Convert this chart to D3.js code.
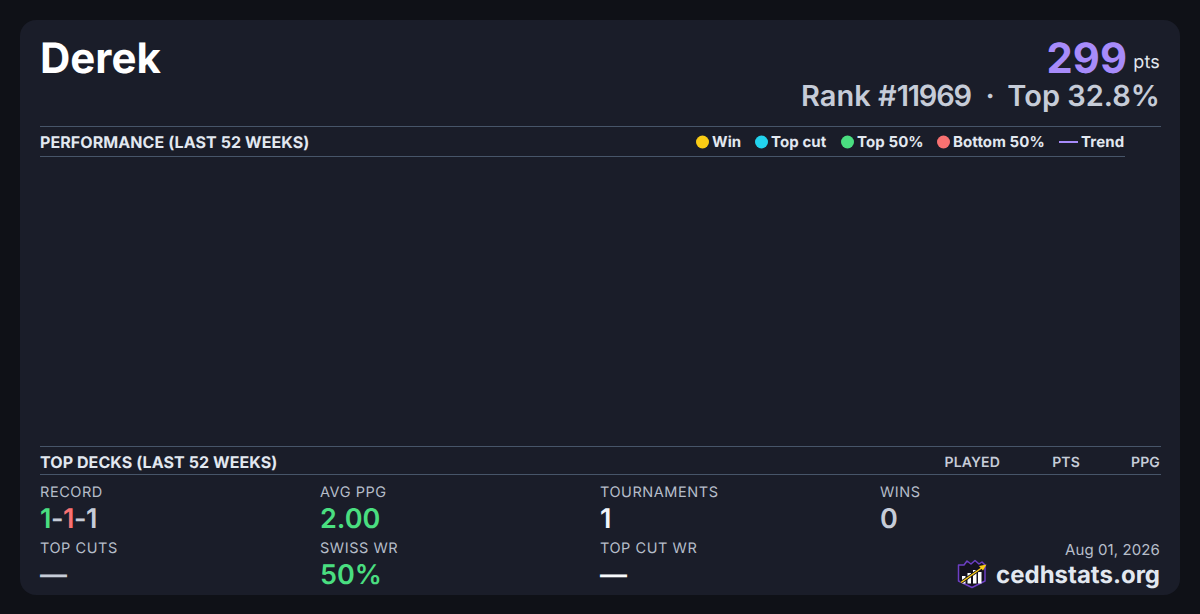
<!DOCTYPE html>
<html><head><meta charset="utf-8">
<script src="https://cdn.jsdelivr.net/npm/d3@7/dist/d3.min.js"></script>
<style>html,body{margin:0;padding:0;background:#0f1117;overflow:hidden}svg{display:block;font-family:Inter,sans-serif;text-rendering:geometricPrecision}</style>
</head><body><svg id="c" width="1200" height="614"></svg>
<script>
const playerName = "Derek";
const points = "299";
const rankPrefix = "Rank #";
const rankValue = "11969";
const topShare = "Top 32.8%";
const legendLabels = ["Win","Top cut","Top 50%","Bottom 50%"];
const legendColors = ["#facc15","#22d3ee","#4ade80","#f87171"];
const legendX = [702.5,761.5,847.5,943.5];
const legendTextX = [712,771,857,953];
const deckHeaders = ["PLAYED","PTS","PPG"];
const deckHeaderRight = [1000,1080,1160];
const statLabels = ["RECORD","AVG PPG","TOURNAMENTS","WINS","TOP CUTS","SWISS WR","TOP CUT WR"];
const statValues = [null,"2.00","1","0","—","50%","—"];
const statColors = [null,"#4ade80","#f1f5f9","#c6ccd8","#c6ccd8","#4ade80","#f8fafc"];
const statX = [40,320,600,880,40,320,600];
const statRow = [0,0,0,0,1,1,1];
const recordParts = ["1","-","1","-","1"];
const recordColors = ["#4ade80","#c6ccd8","#f87171","#c6ccd8","#c6ccd8"];
const logoBars = [[4,16,3.5,7.5],[9.5,13,3.5,10.5],[15,10,3.5,13.5],[20,12,3.5,11.5]];

const svg = d3.select("#c");
svg.append("rect").attr("x",20).attr("y",20).attr("width",1160).attr("height",575).attr("rx",16).attr("fill","#1a1d29");

const T=(x,y,s,size,w,fill,anchor="start",ls=0)=>svg.append("text").attr("x",x).attr("y",y).attr("font-size",size).attr("font-weight",w).attr("fill",fill).attr("text-anchor",anchor).attr("letter-spacing",ls).style("white-space","pre").text(s);
const L=(x1,x2,y)=>svg.append("line").attr("x1",x1).attr("x2",x2).attr("y1",y+.5).attr("y2",y+.5).attr("stroke","#475569").attr("stroke-width",1);

T(40,73,playerName,42,700,"#ffffff");
T(1127,73,points,41.7,700,"#a78bfa","end");
T(1160,68,"pts",18,400,"#e2e8f0","end",0.2);
const rank=T(801,106,"",29,600,"#c6ccd8");
rank.append("tspan").text(rankPrefix);
rank.append("tspan").attr("letter-spacing",-1.2).text(rankValue);
T(990,106,"·",29,600,"#c6ccd8","middle");
T(1160,106,topShare,29,600,"#c6ccd8","end");

L(40,1161,126);L(40,1125,156);L(40,1161,446);L(40,1161,474);
T(40,148,"PERFORMANCE (LAST 52 WEEKS)",16,700,"#e2e8f0","start",0.08);
T(40,468,"TOP DECKS (LAST 52 WEEKS)",16,700,"#e2e8f0","start",0.08);

svg.append("g").selectAll("circle").data(legendLabels).join("circle")
 .attr("cx",(d,i)=>legendX[i]).attr("cy",142).attr("r",6.5).attr("fill",(d,i)=>legendColors[i]);
legendLabels.forEach((d,i)=>T(legendTextX[i],147,d,15,700,"#e2e8f0","start",0.1));
svg.append("line").attr("x1",1059).attr("x2",1078).attr("y1",142).attr("y2",142).attr("stroke","#a78bfa").attr("stroke-width",2);
T(1081,147,"Trend",15,700,"#e2e8f0","start",0.15);

deckHeaders.forEach((d,i)=>T(deckHeaderRight[i],467,d,14,600,"#c6ccd8","end",0.15));

const rowLabelY=[497,553], rowValueY=[528,584];
statLabels.forEach((d,i)=>{
  T(statX[i],rowLabelY[statRow[i]],d,14.5,400,"#b6bdc9","start",0.55);
  if(statValues[i]!==null) T(statX[i],rowValueY[statRow[i]],statValues[i],27,600,statColors[i]);
});
const rec=svg.append("text").attr("x",40).attr("y",528).attr("font-size",27).attr("font-weight",600).attr("letter-spacing",-0.5);
recordParts.forEach((p,i)=>rec.append("tspan").attr("fill",recordColors[i]).text(p));

T(1160,555,"Aug 01, 2026",15,400,"#b6bdc9","end",0.1);
T(1160,583,"cedhstats.org",24,700,"#e2e8f0","end");

// logo
const g=svg.append("g").attr("transform","translate(958,560)");
g.append("path").attr("d","M0.5 5 L6 5 L9 1 L13 4 L17 0.5 L21 4 L24 2 L27 5 L27 21 L14 27.5 L0.5 21 Z").attr("fill","#14121f").attr("stroke","#6d3fc4").attr("stroke-width",1.5).attr("stroke-linejoin","round");
g.selectAll("rect").data(logoBars).join("rect").attr("x",d=>d[0]).attr("y",d=>d[1]).attr("width",d=>d[2]).attr("height",d=>d[3]).attr("fill","#ffffff");
g.append("line").attr("x1",3).attr("y1",22.5).attr("x2",25).attr("y2",7).attr("stroke","#14121f").attr("stroke-width",3);
g.append("line").attr("x1",3).attr("y1",22.5).attr("x2",25).attr("y2",7).attr("stroke","#facc15").attr("stroke-width",1.5);
g.append("path").attr("d","M28.5 4.5 L21 6 L25 10.5 Z").attr("fill","#facc15");
</script></body></html>
